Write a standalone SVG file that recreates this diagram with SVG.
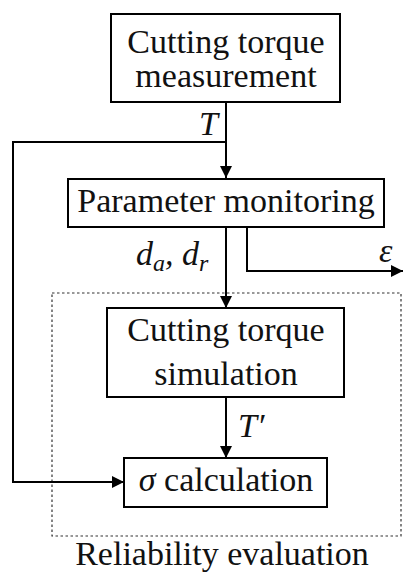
<svg xmlns="http://www.w3.org/2000/svg" width="403" height="572" viewBox="0 0 403 572">
  <style>
    .box { fill: #fff; stroke: #000; stroke-width: 2; }
    .lbl { font-family: "Liberation Serif", "Times New Roman", serif; font-size: 34px; fill: #111; text-anchor: middle; }
    .math { font-family: "Liberation Serif", "Times New Roman", serif; font-style: italic; font-size: 34px; fill: #111; }
    .sub { font-size: 24px; }
    .wire { fill: none; stroke: #000; stroke-width: 2; }
    .group { fill: none; stroke: #333; stroke-width: 1.2; stroke-dasharray: 2.5 2.5; }
  </style>
  <defs>
    <marker id="arrow" viewBox="0 0 12 12" refX="12" refY="6" markerWidth="12" markerHeight="12" markerUnits="userSpaceOnUse" orient="auto">
      <path d="M0,0 L12,6 L0,12 Z" fill="#000"/>
    </marker>
  </defs>

  <rect width="403" height="572" fill="#fff"/>

  <!-- dotted frame around the evaluation stage -->
  <g id="reliability-group">
    <rect class="group" x="52" y="293" width="349" height="243"/>
    <text class="lbl" x="222" y="565">Reliability evaluation</text>
  </g>

  <!-- signal lines and their symbols -->
  <g id="connectors">
    <path class="wire" d="M226,102 V178" marker-end="url(#arrow)"/>
    <path class="wire" d="M226,142 H13 V482 H124" marker-end="url(#arrow)"/>
    <path class="wire" d="M226,227 V308" marker-end="url(#arrow)"/>
    <path class="wire" d="M247,227 V271 H403" marker-end="url(#arrow)"/>
    <path class="wire" d="M226,397 V458" marker-end="url(#arrow)"/>
    <text class="math" x="199" y="135">T</text>
    <text class="math" x="136" y="265">d<tspan class="sub" dy="6">a</tspan><tspan dy="-6">, d</tspan><tspan class="sub" dy="6">r</tspan></text>
    <text class="math" x="379" y="262">ε</text>
    <text class="math" x="238" y="437">T′</text>
  </g>

  <g id="torque-measurement">
    <rect class="box" x="111" y="14" width="229" height="88"/>
    <text class="lbl" x="226" y="53">Cutting torque</text>
    <text class="lbl" x="226" y="87">measurement</text>
  </g>

  <g id="parameter-monitoring">
    <rect class="box" x="68" y="179" width="316" height="48"/>
    <text class="lbl" x="226" y="212">Parameter monitoring</text>
  </g>

  <g id="torque-simulation">
    <rect class="box" x="107" y="308" width="237" height="89"/>
    <text class="lbl" x="226" y="341">Cutting torque</text>
    <text class="lbl" x="226" y="385">simulation</text>
  </g>

  <g id="sigma-calculation">
    <rect class="box" x="124" y="458" width="203" height="49"/>
    <text class="lbl" x="226" y="491"><tspan font-style="italic">σ</tspan> calculation</text>
  </g>
</svg>
